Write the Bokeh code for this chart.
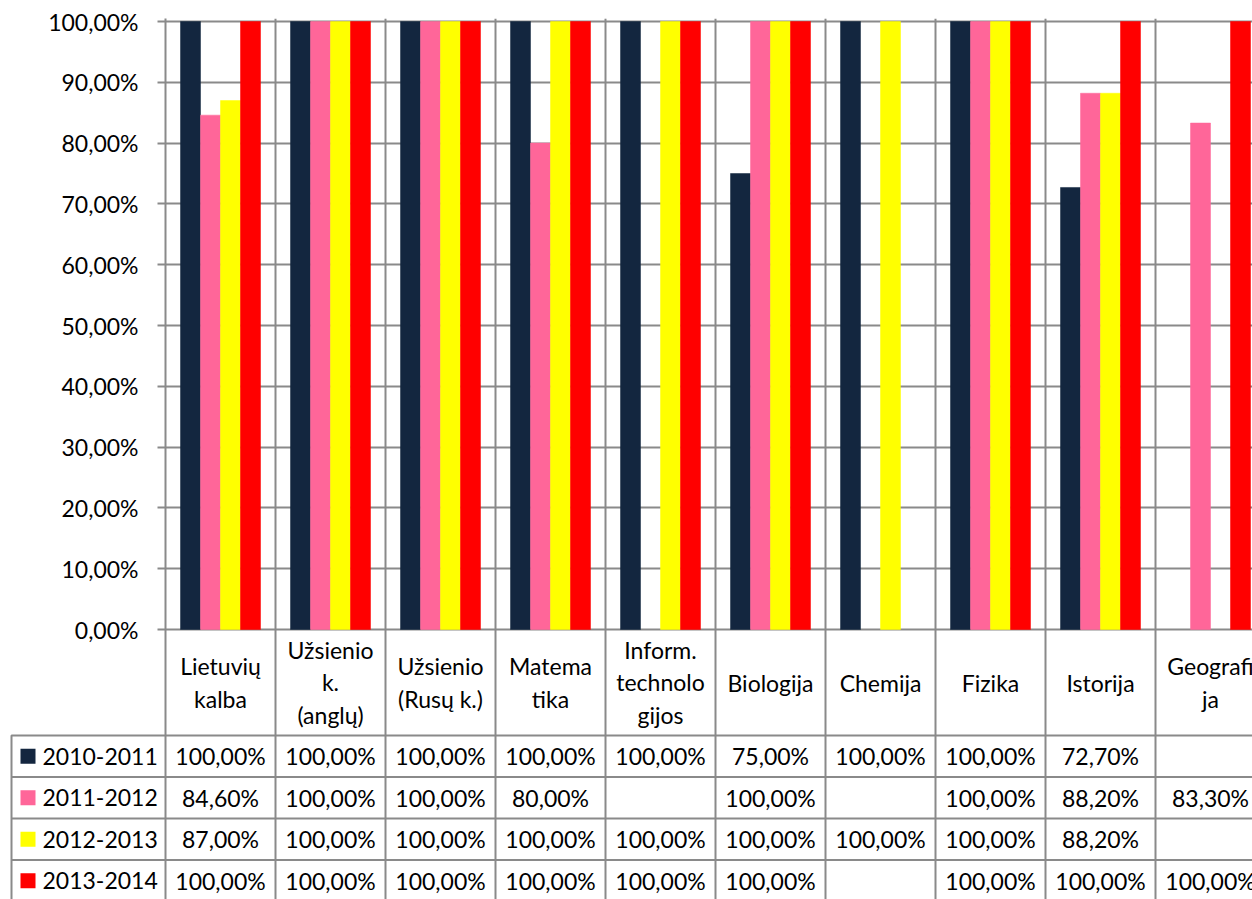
from bokeh.plotting import figure
from bokeh.models import Range1d, FixedTicker, Grid
from bokeh.core.properties import value
from bokeh.embed import file_html
from bokeh.resources import INLINE

categories = ["Lietuvių\nkalba", "Užsienio\nk.\n(anglų)", "Užsienio\n(Rusų k.)", "Matema\ntika",
              "Inform.\ntechnolo\ngijos", "Biologija", "Chemija", "Fizika", "Istorija", "Geografi\nja"]
series_names = ["2010-2011", "2011-2012", "2012-2013", "2013-2014"]
s2010 = [100, 100, 100, 100, 100, 75, 100, 100, 72.7, None]
s2011 = [84.6, 100, 100, 80, None, 100, None, 100, 88.2, 83.3]
s2012 = [87, 100, 100, 100, 100, 100, 100, 100, 88.2, None]
s2013 = [100, 100, 100, 100, 100, 100, None, 100, 100, 100]
series = [s2010, s2011, s2012, s2013]
colors = ["#13263F", "#FF6699", "#FFFF00", "#FF0000"]
y_ticks = [0, 10, 20, 30, 40, 50, 60, 70, 80, 90, 100]
y_tick_labels = ["0,00%", "10,00%", "20,00%", "30,00%", "40,00%", "50,00%",
                 "60,00%", "70,00%", "80,00%", "90,00%", "100,00%"]

FONT = value("Lato")
FS = "23px"
GRID = "#8a8a8a"
CAT_PX = 110.0          # pixels per category
PPU = 6.08              # pixels per percentage point
W, H = 1252, 899
LEFT = 165              # frame left
TOP = 18                # frame top
ZERO_Y = 629            # pixel row of the 0% line
frame_w = W - LEFT
frame_h = H - TOP
y_top = (ZERO_Y - TOP) / PPU
y_bot = y_top - frame_h / PPU


def fmt(v):
    return "" if v is None else (f"{v:.2f}%").replace(".", ",")


def px_x(px):
    """canvas x in pixels -> category units"""
    return (px - LEFT) / CAT_PX


def px_y(below_zero):
    """pixels below the 0% line -> percentage units"""
    return -below_zero / PPU


p = figure(width=W, height=H, output_backend="svg", toolbar_location=None,
           x_range=Range1d(0, frame_w / CAT_PX), y_range=Range1d(y_bot, y_top),
           x_axis_location=None, min_border_left=LEFT, min_border_right=0,
           min_border_top=TOP, min_border_bottom=0)
p.outline_line_color = None
p.background_fill_color = "white"
p.border_fill_color = "white"

p.yaxis.ticker = FixedTicker(ticks=y_ticks)
p.yaxis.major_label_overrides = {t: l for t, l in zip(y_ticks, y_tick_labels)}
p.yaxis.minor_tick_line_color = None
p.yaxis.major_tick_in = 0
p.yaxis.major_tick_out = 8
p.yaxis.major_tick_line_color = GRID
p.yaxis.major_tick_line_width = 2
p.yaxis.axis_line_color = GRID
p.yaxis.axis_line_width = 2
p.yaxis.major_label_text_font = "Lato"
p.yaxis.major_label_text_font_size = FS
p.yaxis.major_label_text_color = "black"
p.yaxis.major_label_standoff = 19
p.ygrid.grid_line_color = GRID
p.ygrid.grid_line_width = 2

n = len(categories)
vgrid = Grid(dimension=0, ticker=FixedTicker(ticks=list(range(1, n + 1))),
             grid_line_color=GRID, grid_line_width=2)
p.add_layout(vgrid)

# ---- bars ----
bw = 20 / CAT_PX
offsets = [-30 / CAT_PX, -10 / CAT_PX, 10 / CAT_PX, 30 / CAT_PX]
for s, c, off in zip(series, colors, offsets):
    xs = [i + 0.5 + off for i, v in enumerate(s) if v is not None]
    ys = [v for v in s if v is not None]
    p.vbar(x=xs, top=ys, bottom=0, width=bw, fill_color=c, line_color=c, line_width=0.5)

# ---- data table below the chart ----
header_h = 106
row_h = 41.5
x_left = px_x(11)
x_end = frame_w / CAT_PX
row_lines = [px_y(header_h + k * row_h) for k in range(len(series) + 1)]
row_centers = [px_y(header_h + row_h * (k + 0.5)) for k in range(len(series))]

# table rules: first item is an L (left border + first row line), so it reaches into the frame
ml_xs = [[x_left, x_left, x_end]] + [[x_left, x_end] for _ in row_lines[1:]]
ml_ys = [[y_bot - 5, row_lines[0], row_lines[0]]] + [[r, r] for r in row_lines[1:]]
p.multi_line(xs=ml_xs, ys=ml_ys, line_color=GRID, line_width=2, level="overlay")

# category header labels
p.text(x=[i + 0.5 for i in range(n)], y=[px_y(header_h / 2)] * n, text=categories,
       text_font=FONT, text_font_size=FS, text_align="center", text_baseline="middle",
       text_line_height=1.17, text_color="black")

# legend keys (15 px squares); each item also holds a zero-area polygon inside the frame
kx, kw, kh = px_x(27.5), 7.5 / CAT_PX, 7.5 / PPU
mp_xs, mp_ys = [], []
for yc in row_centers:
    sq_x = [kx - kw, kx + kw, kx + kw, kx - kw]
    sq_y = [yc - kh, yc - kh, yc + kh, yc + kh]
    mp_xs.append([[sq_x], [[0.5, 0.5, 0.5]]])
    mp_ys.append([[sq_y], [[50, 50, 50]]])
p.multi_polygons(xs=mp_xs, ys=mp_ys, fill_color=colors, line_color=None, level="overlay")

p.text(x=[px_x(42)] * len(series), y=row_centers, text=series_names,
       text_font=FONT, text_font_size=FS, text_align="left", text_baseline="middle",
       text_color="black", level="overlay")

# cell values
for s, yc in zip(series, row_centers):
    xs = [i + 0.5 for i, v in enumerate(s) if v is not None]
    labels = [fmt(v) for v in s if v is not None]
    p.text(x=xs, y=[yc] * len(xs), text=labels, text_font=FONT, text_font_size=FS,
           text_align="center", text_baseline="middle", text_color="black")

open("out.html", "w").write(file_html(p, INLINE))
